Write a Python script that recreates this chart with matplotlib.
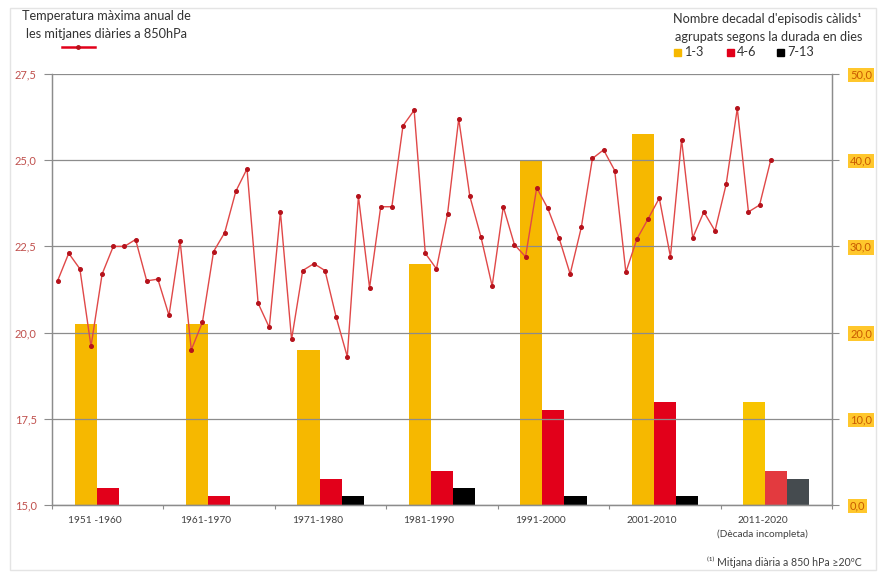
import matplotlib
matplotlib.use("Agg")
import matplotlib.pyplot as plt
from matplotlib.patches import Rectangle
from matplotlib.lines import Line2D
import numpy as np

# ---------------- data ----------------
decades = ["1951 -1960", "1961-1970", "1971-1980", "1981-1990",
           "1991-2000", "2001-2010", "2011-2020\n(Dècada incompleta)"]
ep_1_3 = [21, 21, 18, 28, 40, 43, 12]
ep_4_6 = [2, 1, 3, 4, 11, 12, 4]
ep_7_13 = [0, 0, 1, 2, 1, 1, 3]

years = list(range(1951, 2016))
tmax = [21.5, 22.3, 21.85, 19.6, 21.7, 22.5, 22.5, 22.7, 21.5, 21.55,
        20.5, 22.65, 19.5, 20.3, 22.35, 22.9, 24.1, 24.75, 20.85, 20.15,
        23.5, 19.8, 21.8, 22.0, 21.8, 20.45, 19.3, 23.95, 21.3, 23.65,
        23.65, 26.0, 26.45, 22.3, 21.85, 23.45, 26.2, 23.95, 22.77, 21.35,
        23.65, 22.55, 22.2, 24.2, 23.6, 22.75, 21.7, 23.05, 25.05, 25.3,
        24.7, 21.75, 22.72, 23.3, 23.9, 22.2, 25.6, 22.75, 23.5, 22.95,
        24.3, 26.5, 23.5, 23.7, 25.0]

left_ticks = [15.0, 17.5, 20.0, 22.5, 25.0, 27.5]
right_ticks = [0, 10, 20, 30, 40, 50]

# ---------------- style ----------------
plt.rcParams['font.family'] = ['Lato', 'DejaVu Sans']
YEL, RED, BLK = '#F6B800', '#E2001A', '#000000'
YEL2, RED2, BLK2 = '#F8C400', '#E33A3F', '#454B4F'
LINEC = '#E04848'
MARKC = '#B5121B'
GRID = '#8C8C8C'
TXT = '#333333'

fig = plt.figure(figsize=(8.82, 5.73), dpi=100)
fig.patch.set_facecolor('white')
# faint frame around figure
fig.add_artist(Rectangle((10 / 882, 3 / 573), 866 / 882, 562 / 573,
                         transform=fig.transFigure, fill=False,
                         edgecolor='#E4E4E4', lw=1.0))

ax = fig.add_axes([52 / 882, 1 - 505 / 573, 780 / 882, 431 / 573])
ax2 = ax.twinx()

# bars on right axis
n = len(decades)
xc = np.arange(n) + 0.5
w = 0.198
cols = [[YEL] * (n - 1) + [YEL2], [RED] * (n - 1) + [RED2], [BLK] * (n - 1) + [BLK2]]
for k, vals in enumerate([ep_1_3, ep_4_6, ep_7_13]):
    ax2.bar(xc + (k - 1) * w, vals, width=w, color=cols[k], zorder=2)
ax2.set_ylim(0, 50)
ax2.set_yticks(right_ticks)
ax2.set_yticklabels([f"{v:.1f}".replace('.', ',') for v in right_ticks])
for t in ax2.get_yticklabels():
    t.set_color('#C85A00')
    t.set_fontsize(8)
    t.set_bbox(dict(facecolor='#FFC72C', edgecolor='none', pad=1.2))
ax2.tick_params(axis='y', length=5, color=GRID, pad=8)

# line on top
ax.set_zorder(ax2.get_zorder() + 1)
ax.patch.set_visible(False)
xl = [(y - 1951 + 0.5) / 10 for y in years]
ax.plot(xl, tmax, color=LINEC, lw=1.0, marker='o', ms=2.6,
        mfc=MARKC, mec=MARKC, zorder=5)
ax.set_ylim(15, 27.5)
ax.set_xlim(0, n)
ax.set_yticks(left_ticks)
ax.set_yticklabels([f"{v:.1f}".replace('.', ',') for v in left_ticks])
for t in ax.get_yticklabels():
    t.set_color('#C0504D')
    t.set_fontsize(8)
ax.tick_params(axis='y', length=6, color=GRID, pad=5)

# grid
for v in left_ticks:
    ax.axhline(v, color=GRID, lw=0.9, zorder=0)
ax2.grid(False)

# x axis
ax.set_xticks(np.arange(n + 1), minor=False)
ax.set_xticklabels([])
ax.tick_params(axis='x', length=3, color=GRID, direction='out')
for i, lab in enumerate(decades):
    ax.text(xc[i] - 0.12, 15 - 0.33, lab, ha='center', va='top',
            fontsize=7.3, color='#404040', linespacing=1.6)

for a in (ax, ax2):
    a.spines['top'].set_visible(False)
    for s in ('left', 'right', 'bottom'):
        a.spines[s].set_color(GRID)
        a.spines[s].set_linewidth(0.9)

# titles / legends
fig.text(106 / 882, 1 - 25 / 573,
         "Temperatura màxima anual de\nles mitjanes diàries a 850hPa",
         ha='center', va='center', fontsize=9.2, color=TXT, linespacing=1.55)
fig.add_artist(Line2D([62 / 882, 95 / 882], [1 - 47 / 573] * 2, color=RED, lw=1.8,
                      transform=fig.transFigure))
fig.add_artist(Line2D([78 / 882], [1 - 47 / 573], color=MARKC, marker='o', ms=2.5,
                      transform=fig.transFigure))

fig.text(862 / 882, 1 - 28 / 573,
         "Nombre decadal d'episodis càlids¹\nagrupats segons la durada en dies",
         ha='right', va='center', fontsize=9.2, color=TXT, linespacing=1.55)
for xx, c, lab in [(674, YEL, "1-3"), (727, RED, "4-6"), (777, BLK, "7-13")]:
    fig.add_artist(Rectangle((xx / 882, 1 - 56 / 573), 7 / 882, 7 / 573,
                             transform=fig.transFigure, color=c))
    fig.text((xx + 10) / 882, 1 - 52.5 / 573, lab, ha='left', va='center',
             fontsize=9.2, color=TXT)

fig.text(862 / 882, 1 - 562 / 573, "⁽¹⁾ Mitjana diària a 850 hPa ≥20ºC",
         ha='right', va='center', fontsize=7.6, color='#404040')

fig.savefig("out.png", dpi=100, facecolor='white')
